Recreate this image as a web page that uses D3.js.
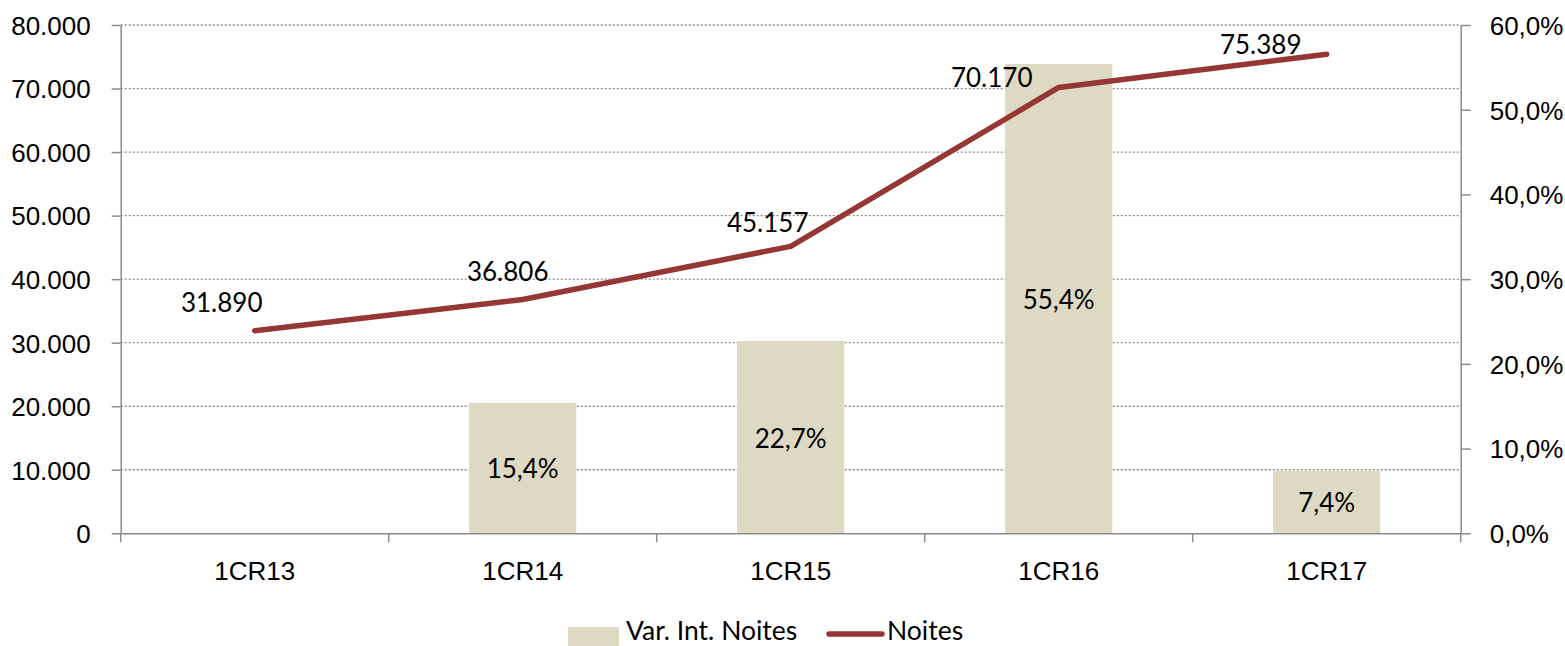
<!DOCTYPE html>
<html>
<head>
<meta charset="utf-8">
<script src="https://cdn.jsdelivr.net/npm/d3@7"></script>
<style>
  body { margin: 0; background: #fff; }
  svg { display: block; font-family: Lato, "Open Sans", sans-serif; }
  .grid line { stroke: #8c8c8c; stroke-width: 1.3; stroke-dasharray: 2 2; }
  .axis path, .axis line { stroke: #8c8c8c; stroke-width: 1.5; }
  .axis text { font-size: 26px; fill: #000; }
  .lbl { font-size: 26px; fill: #000; }
  .leg { font-size: 26.5px; fill: #000; }
</style>
</head>
<body>
<svg id="chart"></svg>
<script>
const categories = ["1CR13", "1CR14", "1CR15", "1CR16", "1CR17"];
const noites = [31890, 36806, 45157, 70170, 75389];
const varIntNoites = [null, 15.4, 22.7, 55.4, 7.4];
const leftTicks = [0, 10000, 20000, 30000, 40000, 50000, 60000, 70000, 80000];
const rightTicks = [0, 10, 20, 30, 40, 50, 60];
// hand placed label offsets (as in the original chart)
const lineLabelOffsets = [[-33, -28], [-15, -28], [-23, -24], [-67, -10], [-66, -10]];

const W = 1565, H = 646;
const plot = { left: 120.7, right: 1460.7, top: 25, bottom: 533.3 };

const svg = d3.select("#chart").attr("width", W).attr("height", H);

const x = d3.scaleBand().domain(categories).range([plot.left, plot.right]).paddingInner(0).paddingOuter(0);
const yL = d3.scaleLinear().domain([0, 80000]).range([plot.bottom, plot.top]);
const yR = d3.scaleLinear().domain([0, 60]).range([plot.bottom, plot.top]);

const fmtN = d3.formatLocale({ decimal: ",", thousands: ".", grouping: [3], currency: ["", ""] }).format(",d");
const fmtP = v => d3.format(".1f")(v).replace(".", ",") + "%";

// gridlines
svg.append("g").attr("class", "grid")
  .selectAll("line").data(leftTicks.filter(d => d > 0)).enter()
  .append("line")
  .attr("x1", plot.left).attr("x2", plot.right)
  .attr("y1", d => yL(d)).attr("y2", d => yL(d));

// bars
const bw = x.bandwidth() * 0.4;
const bars = categories.map((c, i) => ({ c: c, v: varIntNoites[i] })).filter(d => d.v != null);
svg.append("g").selectAll("rect").data(bars).enter()
  .append("rect")
  .attr("x", d => x(d.c) + x.bandwidth() / 2 - bw / 2)
  .attr("width", bw)
  .attr("y", d => yR(d.v))
  .attr("height", d => yR(0) - yR(d.v))
  .attr("fill", "#ddd9c3");

svg.append("g").selectAll("text").data(bars).enter()
  .append("text").attr("class", "lbl")
  .attr("x", d => x(d.c) + x.bandwidth() / 2)
  .attr("y", d => (yR(d.v) + yR(0)) / 2 + 1)
  .attr("text-anchor", "middle").attr("dy", "0.36em")
  .text(d => fmtP(d.v));

// axes
const axL = svg.append("g").attr("class", "axis").attr("transform", `translate(${plot.left},0)`)
  .call(d3.axisLeft(yL).tickValues(leftTicks).tickSize(9).tickSizeOuter(0).tickPadding(21).tickFormat(fmtN));
const axR = svg.append("g").attr("class", "axis").attr("transform", `translate(${plot.right},0)`)
  .call(d3.axisRight(yR).tickValues(rightTicks).tickSize(10).tickSizeOuter(0).tickPadding(19).tickFormat(d => fmtP(d)));
const axB = svg.append("g").attr("class", "axis").attr("transform", `translate(0,${plot.bottom})`)
  .call(d3.axisBottom(x).tickSize(0).tickPadding(37));
axB.selectAll(".tick text").attr("dy", "0.36em");
axB.selectAll(".boundary").data(d3.range(categories.length + 1)).enter()
  .append("line").attr("class", "boundary")
  .attr("x1", i => plot.left + i * x.bandwidth()).attr("x2", i => plot.left + i * x.bandwidth())
  .attr("y1", 0).attr("y2", 9);
[axL, axR].forEach(a => a.selectAll(".tick text").attr("dy", "0.36em"));

// line
const pts = categories.map((c, i) => [x(c) + x.bandwidth() / 2, yL(noites[i])]);
svg.append("path")
  .attr("d", d3.line()(pts))
  .attr("fill", "none").attr("stroke", "#953735")
  .attr("stroke-width", 5.5).attr("stroke-linecap", "round").attr("stroke-linejoin", "round");

svg.append("g").selectAll("text").data(noites).enter()
  .append("text").attr("class", "lbl")
  .attr("x", (d, i) => pts[i][0] + lineLabelOffsets[i][0])
  .attr("y", (d, i) => pts[i][1] + lineLabelOffsets[i][1])
  .attr("text-anchor", "middle").attr("dy", "0.36em")
  .text(d => fmtN(d));

// legend
const lg = svg.append("g");
lg.append("rect").attr("x", 568).attr("y", 627).attr("width", 51).attr("height", 19).attr("fill", "#ddd9c3");
lg.append("text").attr("class", "leg").attr("x", 626).attr("y", 640).text("Var. Int. Noites");
lg.append("line").attr("x1", 829).attr("x2", 882).attr("y1", 634).attr("y2", 634)
  .attr("stroke", "#953735").attr("stroke-width", 5.5).attr("stroke-linecap", "round");
lg.append("text").attr("class", "leg").attr("x", 887).attr("y", 640).text("Noites");
</script>
</body>
</html>
